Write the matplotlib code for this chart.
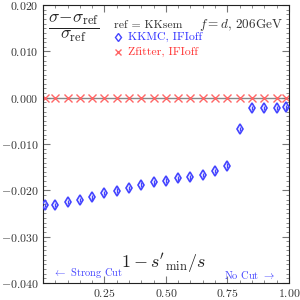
import numpy as np
import matplotlib
matplotlib.use("Agg")
import matplotlib.pyplot as plt
from matplotlib.ticker import MultipleLocator, FuncFormatter

plt.rcParams['font.family'] = 'serif'
plt.rcParams['font.serif'] = ['cmr10', 'DejaVu Serif']
plt.rcParams['mathtext.fontset'] = 'cm'
plt.rcParams['axes.unicode_minus'] = False

# data
cut = [0.01, 0.05, 0.10, 0.15, 0.20, 0.25, 0.30, 0.35, 0.40, 0.45, 0.50,
       0.55, 0.60, 0.65, 0.70, 0.75, 0.80, 0.85, 0.90, 0.95, 0.99]
kkmc = [-0.0232, -0.0232, -0.0225, -0.0221, -0.0215, -0.0206, -0.0201,
        -0.0195, -0.0188, -0.0183, -0.0179, -0.0174, -0.0172, -0.0167,
        -0.0158, -0.0147, -0.0068, -0.0022, -0.0022, -0.0022, -0.0021]
kkmc_err = [0.0005] * len(cut)
zfitter = [0.0] * len(cut)

fig = plt.figure(figsize=(3, 3), dpi=100)
ax = fig.add_axes([0.143, 0.057, 0.82, 0.926])

ax.axhline(0.0, color='#888888', lw=1.0, zorder=1)
ax.errorbar(cut, kkmc, yerr=kkmc_err, fmt='d', ms=5, mfc='none', mec='#4444ff',
            mew=1.2, ecolor='#4444ff', elinewidth=1.0, capsize=0, zorder=3)
ax.plot(cut, zfitter, 'x', ms=5.5, mew=1.0, color='#ff6666', zorder=2)

ax.set_xlim(0, 1)
ax.set_ylim(-0.04, 0.02)
ax.xaxis.set_major_locator(MultipleLocator(0.25))
ax.xaxis.set_minor_locator(MultipleLocator(0.05))
ax.yaxis.set_major_locator(MultipleLocator(0.01))
ax.yaxis.set_minor_locator(MultipleLocator(0.001))
ax.xaxis.set_major_formatter(FuncFormatter(lambda v, p: '' if v < 0.1 else f'${v:.2f}$'))
ax.yaxis.set_major_formatter(FuncFormatter(lambda v, p: f'${v:.3f}$'))
ax.tick_params(which='both', direction='in', top=True, right=True, colors='#777777',
               labelcolor='#333333', labelsize=8.5, pad=3)
ax.tick_params(which='major', length=5)
ax.tick_params(which='minor', length=2.5)
for s in ax.spines.values():
    s.set_color('#222222')

ax.text(0.125, 0.915, r'$\dfrac{\sigma\!-\!\sigma_{\rm ref}}{\sigma_{\rm ref}}$',
        transform=ax.transAxes, fontsize=12.5, ha='center', va='center', color='#222222')
ax.text(0.29, 0.928, r'ref = KKsem', transform=ax.transAxes, fontsize=8.5,
        ha='left', va='center', color='#333333')
ax.plot([0.305], [0.885], 'd', ms=4.5, mfc='none', mec='#4444ff', mew=1.0,
        transform=ax.transAxes)
ax.text(0.345, 0.885, 'KKMC, IFIoff', transform=ax.transAxes, fontsize=8.5,
        ha='left', va='center', color='#3333ff')
ax.plot([0.305], [0.831], 'x', ms=5, mew=1.0, color='#ff6666',
        transform=ax.transAxes)
ax.text(0.345, 0.831, 'Zfitter, IFIoff', transform=ax.transAxes, fontsize=8.5,
        ha='left', va='center', color='#ff3333')
ax.text(0.975, 0.93, r'$f=d$, 206GeV', transform=ax.transAxes, fontsize=9.5,
        ha='right', va='center', color='#333333')

ax.text(0.49, 0.07, r"$1-s'_{\rm min}/s$", transform=ax.transAxes, fontsize=13,
        ha='center', va='center', color='#222222')
ax.text(0.04, 0.035, r'$\leftarrow$ Strong Cut', transform=ax.transAxes, fontsize=7.5,
        ha='left', va='center', color='#4444ff')
ax.text(0.735, 0.028, r'No Cut $\rightarrow$', transform=ax.transAxes, fontsize=7.5,
        ha='left', va='center', color='#4444ff')

fig.savefig('out.png', dpi=100)
